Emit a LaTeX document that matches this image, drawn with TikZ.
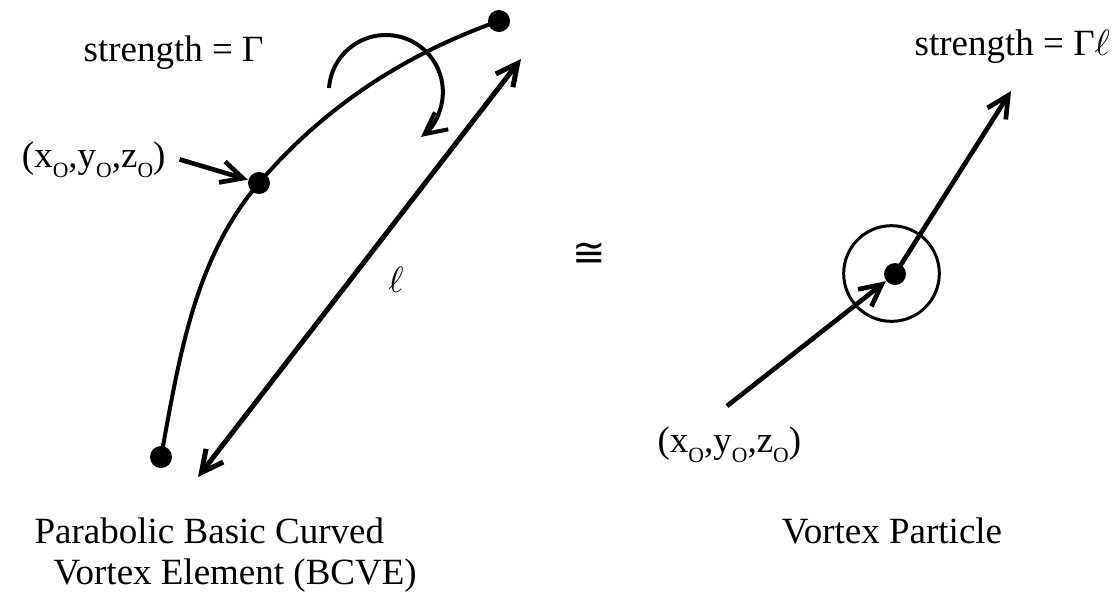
\documentclass[tikz,border=0pt]{standalone}
\usepackage{fontspec}
\setmainfont{Liberation Serif}
\newfontfamily\symfont{DejaVu Sans}
\usetikzlibrary{arrows.meta}

\newcommand{\subO}{\raisebox{-0.6ex}{\fontsize{6.5}{6.5}\selectfont O}}

\begin{document}
\begin{tikzpicture}[x=0.3pt,y=-0.3pt,font=\fontsize{11.1}{13}\selectfont,
    dot/.style={circle,fill=black,inner sep=0pt,minimum size=6.6pt},
    barb/.style={-{Straight Barb[length=6.5pt,width=6.5pt]}},
    dblbarb/.style={{Straight Barb[length=6.5pt,width=6.5pt]}-{Straight Barb[length=6.5pt,width=6.5pt]}},
    txt/.style={inner sep=0pt}]
  \useasboundingbox (0,0) rectangle (1117,593);

  % curved vortex element
  \node[dot] (bot) at (161,457) {};
  \node[dot] (mid) at (259,183) {};
  \node[dot] (top) at (499,21) {};
  \draw[line width=1.2pt] (bot.center) .. controls (179,359) and (194,259) .. (mid.center)
    .. controls (324,107) and (405,54) .. (top.center);

  % rotation sense
  \coordinate (rot) at (329,88);
  \draw[barb,line width=1.2pt] (rot) arc[start angle=184,end angle=412,radius=57];

  % length of the element
  \coordinate (lo) at (198,477);
  \coordinate (hi) at (521,59);
  \draw[dblbarb,line width=1.5pt] (lo) -- (hi);
  \node[txt] (ell) at (396,280) {$\ell$};

  \node[txt,anchor=base west] (gam) at (83,61) {strength = Γ};
  \node[txt,anchor=base west,inner xsep=4pt] (pos) at (8,167) {(x\subO,y\subO,z\subO)};
  \draw[barb,line width=1.4pt] (pos.east) -- (mid);

  \node[txt] (eq) at (589,255) {\symfont\fontsize{12}{12}\selectfont ≅};

  % vortex particle
  \node[circle,draw,line width=0.9pt,inner sep=0pt,minimum size=28.7pt] (ring) at (891.5,273.5) {};
  \node[dot] (part) at (895,274) {};
  \coordinate (tail) at (727,406);
  \coordinate (head) at (1011,91);
  \draw[barb,line width=1.4pt] (tail) -- (part);
  \draw[barb,line width=1.4pt] (part.center) -- (head);
  \node[txt,anchor=base west] (gaml) at (914,55) {strength = Γ$\ell$};
  \node[txt,anchor=base west] (ppos) at (657,452) {(x\subO,y\subO,z\subO)};

  % captions
  \node[txt,anchor=base west] (cap1) at (34,543) {Parabolic Basic Curved};
  \node[txt,anchor=base west] (cap2) at (53,584) {Vortex Element (BCVE)};
  \node[txt,anchor=base] (cap3) at (892,543) {Vortex Particle};
\end{tikzpicture}
\end{document}
